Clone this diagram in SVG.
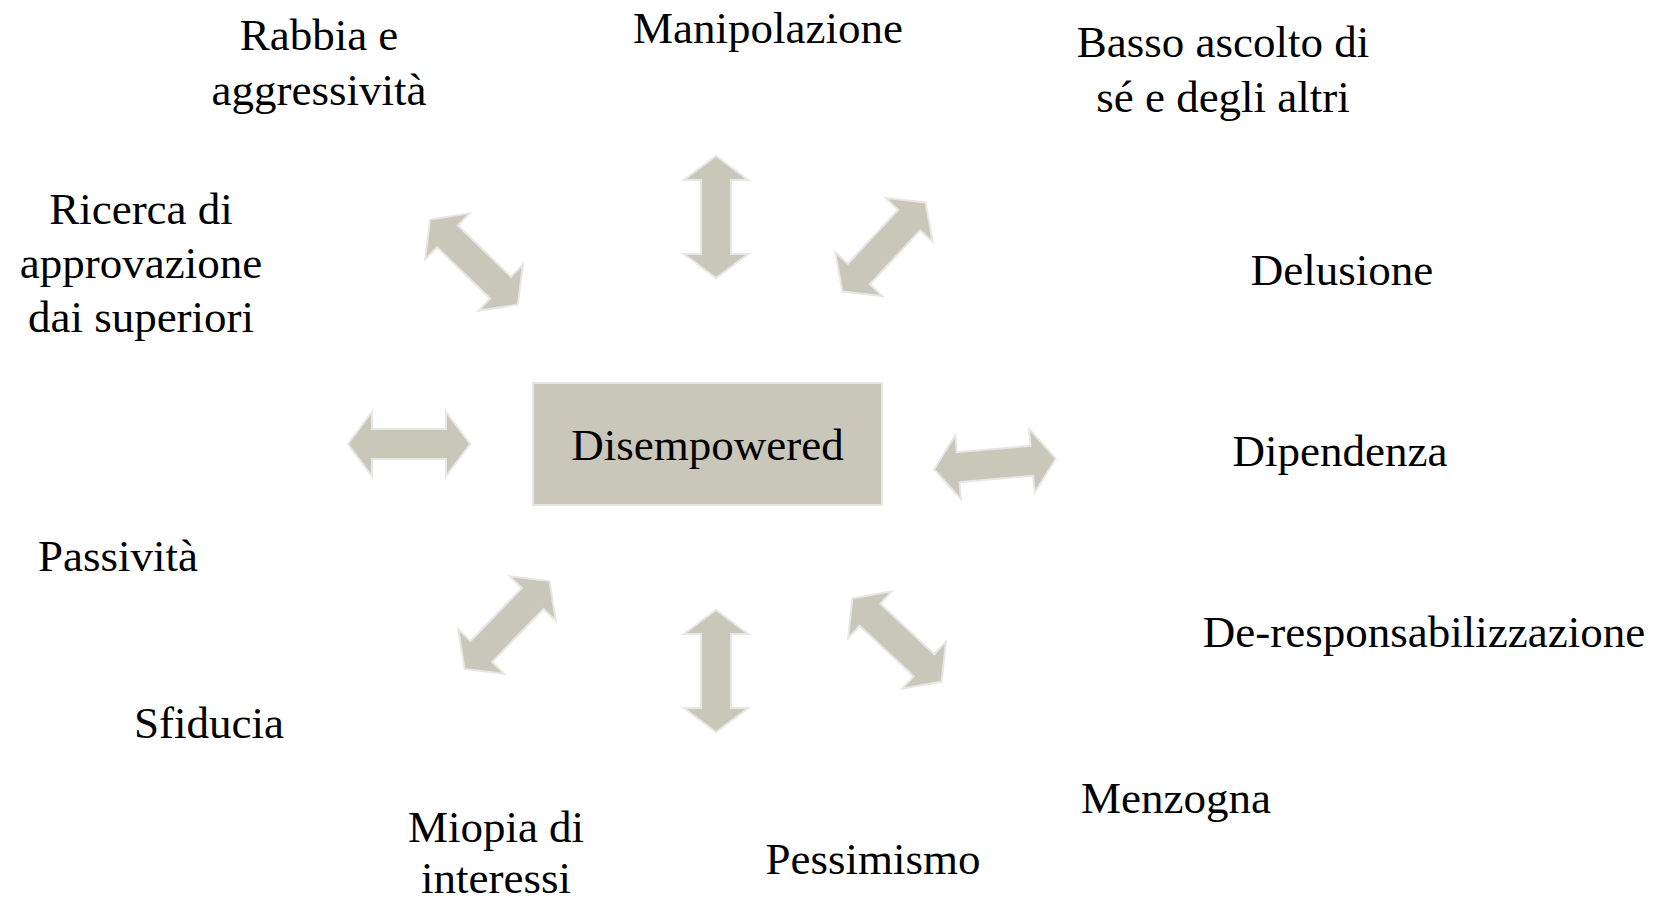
<svg xmlns="http://www.w3.org/2000/svg" width="1660" height="902" viewBox="0 0 1660 902">
<style>
.lbl{font-family:"Liberation Serif","Times New Roman",serif;font-size:45px;fill:#000;text-anchor:middle}
.arr{fill:#C9C7BA;stroke:#E6E6E3;stroke-width:2;stroke-linejoin:miter}
</style>
<defs>
<path id="dbl" d="M-61,0 L-37,-32 L-37,-15 L37,-15 L37,-32 L61,0 L37,32 L37,15 L-37,15 L-37,32 Z"/>
</defs>
<rect width="1660" height="902" fill="#fff"/>
<g id="connectors">
<use href="#dbl" class="arr" transform="translate(716,217) rotate(90)"/>
<use href="#dbl" class="arr" transform="translate(474,262) rotate(44)"/>
<use href="#dbl" class="arr" transform="translate(884,247) rotate(-47)"/>
<use href="#dbl" class="arr" transform="translate(409,444)"/>
<use href="#dbl" class="arr" transform="translate(995,464) rotate(-5)"/>
<use href="#dbl" class="arr" transform="translate(507,625) rotate(-46)"/>
<use href="#dbl" class="arr" transform="translate(716,671) rotate(90)"/>
<use href="#dbl" class="arr" transform="translate(897,640) rotate(43)"/>
</g>
<g id="center">
<rect x="533" y="383" width="349" height="122" fill="#C9C7BA" stroke="#E6E6E3" stroke-width="2"/>
<text class="lbl" x="707.5" y="460">Disempowered</text>
</g>
<g id="n-rabbia"><text class="lbl" x="319" y="50">Rabbia e</text><text class="lbl" x="319" y="105">aggressività</text></g>
<g id="n-manipolazione"><text class="lbl" x="768" y="43">Manipolazione</text></g>
<g id="n-basso"><text class="lbl" x="1223" y="57">Basso ascolto di</text><text class="lbl" x="1223" y="112">sé e degli altri</text></g>
<g id="n-ricerca"><text class="lbl" x="141" y="224">Ricerca di</text><text class="lbl" x="141" y="278">approvazione</text><text class="lbl" x="141" y="332">dai superiori</text></g>
<g id="n-delusione"><text class="lbl" x="1342" y="285">Delusione</text></g>
<g id="n-dipendenza"><text class="lbl" x="1340" y="466">Dipendenza</text></g>
<g id="n-passivita"><text class="lbl" x="118" y="571">Passività</text></g>
<g id="n-deresp"><text class="lbl" x="1424" y="647">De-responsabilizzazione</text></g>
<g id="n-sfiducia"><text class="lbl" x="209" y="738">Sfiducia</text></g>
<g id="n-menzogna"><text class="lbl" x="1176" y="813">Menzogna</text></g>
<g id="n-miopia"><text class="lbl" x="496" y="842">Miopia di</text><text class="lbl" x="496" y="893">interessi</text></g>
<g id="n-pessimismo"><text class="lbl" x="873" y="874">Pessimismo</text></g>
</svg>
